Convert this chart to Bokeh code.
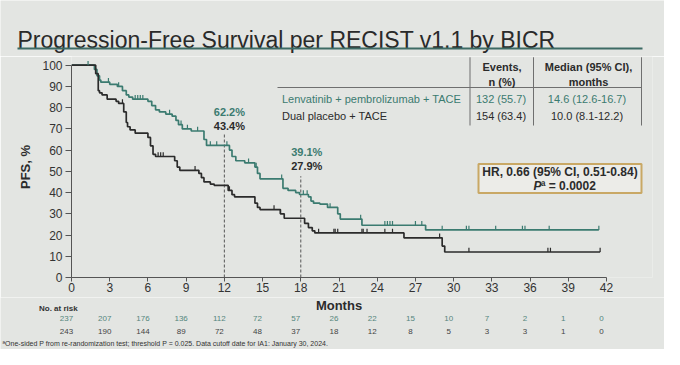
import numpy as np
from bokeh.plotting import figure
from bokeh.layouts import column
from bokeh.models import Range1d, FixedTicker, Label, BoxAnnotation
from bokeh.embed import file_html
from bokeh.resources import INLINE

# ---------------- data ----------------
month_ticks = list(range(0, 43, 3))
pfs_ticks = list(range(0, 101, 10))

len_time = [0, 1.8, 2.0, 2.2, 2.3, 3.0, 3.6, 4.0, 4.3, 4.5, 4.8, 6.0, 6.3, 6.6, 6.9, 7.4, 7.9, 8.2, 8.4, 8.7, 9.4,
            10.4, 10.6, 12.4, 12.6, 12.9, 13.6, 14.4, 14.6, 14.8, 16.6, 17.0, 17.6, 17.9, 18.6, 18.8, 19.0, 19.5,
            20.1, 20.9, 21.1, 22.8, 27.8, 41.4]
len_pfs = [100, 98, 95, 93, 92, 91, 90, 88, 86, 85, 84, 83, 81, 79, 78, 77, 76, 74, 72, 70, 69,
           65, 62.2, 60, 57, 55, 54, 52, 49, 46.5, 42, 41, 40, 39.1, 38, 36, 35, 34.6,
           33, 30, 27.5, 24.6, 22.4, 22.4]
len_censor = [1.3, 2.9, 3.7, 5.0, 5.2, 5.4, 5.6, 7.7, 8.6, 9.1, 9.9, 10.9, 11.4, 12.2, 13.9, 14.5, 16.5,
              18.2, 18.5, 20.3, 22.7, 24.6, 24.8, 25.0, 25.2, 27.0, 27.5, 29.1, 31.0, 31.2, 33.3, 35.4,
              35.6, 37.5, 41.4]

pbo_time = [0, 1.9, 2.1, 2.2, 2.4, 2.8, 3.5, 3.7, 4.1, 4.3, 4.4, 4.6, 5.0, 6.0, 6.2, 6.4, 6.6, 8.1, 8.3, 8.5,
            10.0, 10.2, 10.4, 10.9, 11.2, 12.3, 12.6, 12.8, 14.4, 14.6, 14.8, 16.4, 16.7, 18.3, 18.6, 18.9,
            19.1, 26.1, 29.1, 29.3, 41.5]
pbo_pfs = [100, 96, 88, 87, 86, 84, 83, 82, 78, 73, 71, 69.5, 68, 66, 62, 58, 57, 55, 52, 50.5,
           49, 47, 45, 44, 43.4, 41, 39, 38, 35, 33, 32, 30, 27.9, 25.5, 23.5, 22,
           21, 18.7, 14.8, 12, 12]
pbo_censor = [4.0, 6.8, 7.0, 7.2, 9.7, 12.4, 15.9, 16.4, 19.4, 20.6, 20.7, 20.9, 22.8, 22.9, 23.2, 24.6,
              25.2, 28.9, 31.2, 37.4, 37.6, 41.5]

landmark_months = [12, 18]
landmark_len = ["62.2%", "39.1%"]
landmark_pbo = ["43.4%", "27.9%"]

len_risk = [237, 207, 176, 136, 112, 72, 57, 26, 22, 15, 10, 7, 2, 1, 0]
pbo_risk = [243, 190, 144, 89, 72, 48, 37, 18, 12, 8, 5, 3, 3, 1, 0]

arm_names = ["Lenvatinib + pembrolizumab + TACE", "Dual placebo + TACE"]
arm_events = ["132 (55.7)", "154 (63.4)"]
arm_median = ["14.6 (12.6-16.7)", "10.0 (8.1-12.2)"]

title = "Progression-Free Survival per RECIST v1.1 by BICR"
hr_text = "HR, 0.66 (95% CI, 0.51-0.84)"
p_text = "\u00aa = 0.0002"
footnote = ("\u00aaOne-sided P from re-randomization test; threshold P = 0.025. "
            "Data cutoff date for IA1: January 30, 2024.")

# ---------------- style / layout ----------------
FONT = "Liberation Sans"
TEAL = "#3b7b70"
DARK = "#2b2b2b"
BG = "#e3e5e2"
W = 664
HEAD_H, MAIN_H, FOOT_H = 56, 241, 52
LEFT, RIGHT, BOTTOM = 71, 12, 20
PX_PER_MONTH = 535 / 42.0
PX_PER_PCT = 212.3 / 100.0
frame_w = W - LEFT - RIGHT
frame_h = MAIN_H - BOTTOM
TOP = HEAD_H  # page y of the main frame top


def base_fig(h, xr, yr, **kw):
    f = figure(width=W, height=h, x_range=xr, y_range=yr, output_backend="svg", toolbar_location=None,
               title=None, frame_align=False, **kw)
    f.background_fill_color = BG
    f.border_fill_color = BG
    f.outline_line_color = None
    f.xgrid.visible = False
    f.ygrid.visible = False
    return f


def lab(f, x, y, text, size="11px", color=DARK, style="normal", align="left", baseline="middle",
        xu="canvas", yu="canvas", xoff=0):
    f.add_layout(Label(x=x, y=y, x_units=xu, y_units=yu, text=text, text_font=FONT, text_font_size=size,
                       text_color=color, text_font_style=style, text_align=align, text_baseline=baseline,
                       x_offset=xoff))


def box(f, l, r, t, b, fill, line=None, lw=1, level="annotation"):
    f.add_layout(BoxAnnotation(left=l, right=r, top=t, bottom=b, left_units="canvas", right_units="canvas",
                               top_units="canvas", bottom_units="canvas", fill_color=fill, fill_alpha=1,
                               line_color=line, line_alpha=1 if line else 0, line_width=lw, level=level))


# ---------- header (title) ----------
head = base_fig(HEAD_H, Range1d(0, W), Range1d(0, HEAD_H), min_border=0, x_axis_type=None, y_axis_type=None)
lab(head, 17, 39, title, size="23px", color="#2a2a2a", baseline="alphabetic")
box(head, 17, 642, 47, 49, "#3d6b64")

# ---------- main plot ----------
p = base_fig(MAIN_H, Range1d(0, frame_w / PX_PER_MONTH), Range1d(0, frame_h / PX_PER_PCT),
             min_border_left=LEFT, min_border_right=RIGHT, min_border_top=0, min_border_bottom=BOTTOM)

xa = p.xaxis[0]
xa.ticker = FixedTicker(ticks=month_ticks)
xa.bounds = (0, 42)
xa.major_label_text_font = FONT
xa.major_label_text_font_size = "12px"
xa.major_label_text_color = "#333333"
xa.major_label_standoff = 1
xa.major_tick_out = 4
xa.major_tick_in = 0
xa.minor_tick_out = 0
xa.minor_tick_in = 0
xa.axis_line_color = "#555555"
xa.major_tick_line_color = "#555555"

ya = p.yaxis[0]
ya.ticker = FixedTicker(ticks=pfs_ticks)
ya.bounds = (0, 100)
ya.axis_label = "PFS, %"
ya.axis_label_text_font = FONT
ya.axis_label_text_font_style = "bold"
ya.axis_label_text_font_size = "13px"
ya.axis_label_text_color = DARK
ya.axis_label_standoff = 6
ya.major_label_text_font = FONT
ya.major_label_text_font_size = "12px"
ya.major_label_text_color = "#333333"
ya.major_label_standoff = 3
ya.major_tick_out = 6
ya.major_tick_in = 0
ya.minor_tick_out = 0
ya.minor_tick_in = 0
ya.axis_line_color = "#555555"
ya.major_tick_line_color = "#555555"

# landmark dashed lines
dash_top = [67.7, 47.7]
p.segment(x0=landmark_months, y0=[0, 0], x1=landmark_months, y1=dash_top,
          line_color="#555555", line_width=1, line_dash="3 2")

# KM curves
p.step(len_time, len_pfs, mode="after", line_color=TEAL, line_width=1.7)
p.step(pbo_time, pbo_pfs, mode="after", line_color=DARK, line_width=1.7)


def surv_at(times, vals, t):
    idx = np.searchsorted(np.array(times), np.array(t), side="right") - 1
    return np.array(vals)[idx]


for t, v, c, col in [(len_time, len_pfs, len_censor, TEAL), (pbo_time, pbo_pfs, pbo_censor, DARK)]:
    ys = surv_at(t, v, c)
    p.segment(x0=c, y0=ys, x1=c, y1=ys + 2.0, line_color=col, line_width=1.2)


def py(page_y):
    return page_y - TOP


# table
for xv in [469, 532.5, 640.5]:
    box(p, xv, xv + 1, py(56.7), py(125), "#6f6f6f")
box(p, 277, 641, py(86.5), py(87.5), "#6f6f6f")
lab(p, 501.5, py(66.7), "Events,", size="11px", style="bold", align="center")
lab(p, 501.5, py(81), "n (%)", size="11px", style="bold", align="center")
lab(p, 588, py(66.7), "Median (95% CI),", size="11px", style="bold", align="center")
lab(p, 588, py(81), "months", size="11px", style="bold", align="center")
row_y = [py(98.3), py(115.7)]
row_col = [TEAL, DARK]
for i in range(2):
    lab(p, 281.5, row_y[i], arm_names[i], size="11px", color=row_col[i])
    lab(p, 500.5, row_y[i], arm_events[i], size="11px", color=row_col[i], align="center")
    lab(p, 586.5, row_y[i], arm_median[i], size="11px", color=row_col[i], align="center")

# HR box
box(p, 478, 641, py(163.5), py(192.5), "#ecece8", line="#c9a865", lw=2)
lab(p, 559.5, py(171.7), hr_text, size="12px", style="bold", align="center")
lab(p, 541, py(185.2), "P", size="12px", style="bold italic", align="right")
lab(p, 540.5, py(185.2), p_text, size="12px", style="bold", align="left")

# landmark labels
lab(p, landmark_months[0], py(111), landmark_len[0], size="11px", color=TEAL, style="bold", align="center",
    xu="data", xoff=5)
lab(p, landmark_months[0], py(125), landmark_pbo[0], size="11px", style="bold", align="center",
    xu="data", xoff=5)
lab(p, landmark_months[1], py(151.7), landmark_len[1], size="11px", color=TEAL, style="bold",
    align="center", xu="data", xoff=6)
lab(p, landmark_months[1], py(165), landmark_pbo[1], size="11px", style="bold", align="center",
    xu="data", xoff=6)

# ---------- footer (x label, numbers at risk, footnote) ----------
foot = base_fig(FOOT_H, Range1d(-LEFT / PX_PER_MONTH, (W - LEFT) / PX_PER_MONTH), Range1d(0, FOOT_H),
                min_border=0, x_axis_type=None, y_axis_type=None)
lab(foot, 21, 7.5, "Months", size="13px", style="bold", align="center", xu="data")
lab(foot, 38.5, 11, "No. at risk", size="8px", style="bold", color="#333333")
for m, a, b in zip(month_ticks, len_risk, pbo_risk):
    lab(foot, m, 21.3, str(a), size="8px", color="#55857d", align="center", xu="data", xoff=-5)
    lab(foot, m, 33.7, str(b), size="8px", color="#444444", align="center", xu="data", xoff=-5)
lab(foot, 2, 46, footnote, size="7px", color="#333333")

layout = column(head, p, foot, spacing=0)
open("out.html", "w").write(file_html(layout, INLINE))
